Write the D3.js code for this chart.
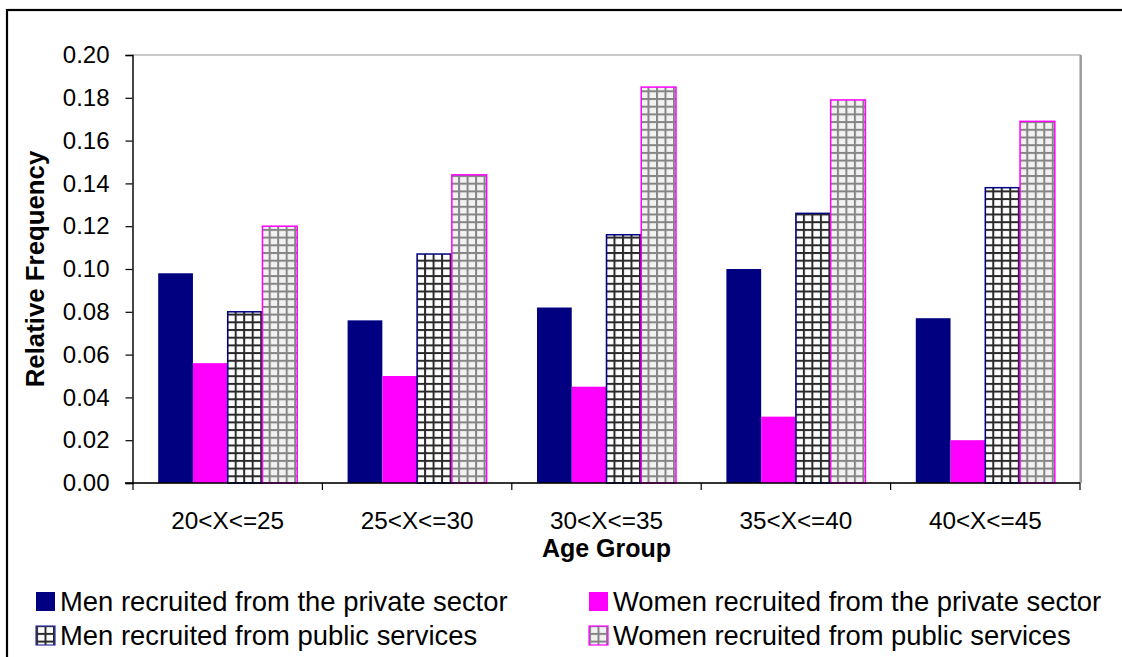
<!DOCTYPE html>
<html>
<head>
<meta charset="utf-8">
<script src="https://cdn.jsdelivr.net/npm/d3@7/dist/d3.min.js"></script>
<style>
  html, body { margin: 0; padding: 0; background: #fff; }
  svg { display: block; font-family: "Liberation Sans", Arial, sans-serif; }
</style>
</head>
<body>
<svg id="chart" width="1122" height="657"></svg>
<script>
// Age groups on the category axis
const ageGroups = ["20<X<=25", "25<X<=30", "30<X<=35", "35<X<=40", "40<X<=45"];

// Relative frequency per age group, one array per series
const menPrivate   = [0.098, 0.076, 0.082, 0.100, 0.077];
const womenPrivate = [0.056, 0.050, 0.045, 0.031, 0.020];
const menPublic    = [0.080, 0.107, 0.116, 0.126, 0.138];
const womenPublic  = [0.120, 0.144, 0.185, 0.179, 0.169];

const seriesNames = [
  "Men recruited from the private sector",
  "Women recruited from the private sector",
  "Men recruited from public services",
  "Women recruited from public services"
];

const yTicks = [0.00, 0.02, 0.04, 0.06, 0.08, 0.10, 0.12, 0.14, 0.16, 0.18, 0.20];

const seriesValues = [menPrivate, womenPrivate, menPublic, womenPublic];

const svg = d3.select("#chart");
const W = 1122, H = 657;

// Layout of the plot area
const plot = { left: 133, top: 55, right: 1080, bottom: 483 };

// Hatch patterns for the public-services series
const defs = svg.append("defs");
function gridPattern(id, bg, line) {
  const p = defs.append("pattern")
    .attr("id", id)
    .attr("patternUnits", "userSpaceOnUse")
    .attr("width", 8.5).attr("height", 7.7)
    .attr("x", 0).attr("y", plot.bottom);
  p.append("rect").attr("width", 8.5).attr("height", 7.7).attr("fill", bg);
  p.append("rect").attr("x", 0).attr("y", 0).attr("width", 2).attr("height", 7.7).attr("fill", line);
  p.append("rect").attr("x", 0).attr("y", 0).attr("width", 8.5).attr("height", 2).attr("fill", line);
}
gridPattern("gridDark", "#ffffff", "#2a2a2a");
gridPattern("gridLight", "#f2f2f2", "#858585");

const fills = ["#000080", "#ff00ff", "url(#gridDark)", "url(#gridLight)"];
const strokes = ["#000080", "#ff00ff", "#000080", "#ff00ff"];

// Outer chart frame
svg.append("rect")
  .attr("x", 7).attr("y", 10)
  .attr("width", W + 20).attr("height", H + 20)
  .attr("fill", "none").attr("stroke", "#000").attr("stroke-width", 2.2);

// Scales
const x0 = d3.scaleBand()
  .domain(ageGroups)
  .range([plot.left, plot.right])
  .paddingInner(0.266)
  .paddingOuter(0.133);

const x1 = d3.scaleBand()
  .domain(d3.range(seriesValues.length))
  .range([0, x0.bandwidth()]);

const y = d3.scaleLinear()
  .domain([0, 0.20])
  .range([plot.bottom, plot.top]);

// Plot area frame (grey)
svg.append("rect")
  .attr("x", plot.left).attr("y", plot.top)
  .attr("width", plot.right - plot.left).attr("height", plot.bottom - plot.top)
  .attr("fill", "none").attr("stroke", "#a6a6a6").attr("stroke-width", 1.2);
svg.append("line")
  .attr("x1", plot.right + 1).attr("x2", plot.right + 1)
  .attr("y1", plot.top).attr("y2", plot.bottom)
  .attr("stroke", "#8a8a8a").attr("stroke-width", 1.5);

// Bars
const groups = svg.append("g").selectAll("g")
  .data(ageGroups)
  .join("g")
  .attr("transform", d => `translate(${x0(d)},0)`);

groups.selectAll("rect")
  .data((d, i) => seriesValues.map((vals, s) => ({ s, v: vals[i] })))
  .join("rect")
  .attr("x", d => x1(d.s))
  .attr("y", d => y(d.v))
  .attr("width", x1.bandwidth())
  .attr("height", d => y(0) - y(d.v))
  .attr("fill", d => fills[d.s])
  .attr("stroke", d => strokes[d.s])
  .attr("stroke-width", d => d.s >= 2 ? 1.5 : 0);

// Y axis
const yAxis = d3.axisLeft(y)
  .tickValues(yTicks)
  .tickFormat(d3.format(".2f"))
  .tickSize(7)
  .tickPadding(16);
const gy = svg.append("g")
  .attr("transform", `translate(${plot.left - 0.5},0)`)
  .call(yAxis);
gy.select(".domain").attr("stroke", "#000").attr("stroke-width", 1.3);
gy.selectAll(".tick line").attr("stroke", "#000").attr("stroke-width", 1.2);
gy.selectAll(".tick text")
  .attr("font-size", 24)
  .attr("fill", "#000")
  .attr("font-family", "Liberation Sans, Arial, sans-serif");

// X axis: baseline with ticks between the age groups
const step = x0.step();
const boundaries = ageGroups.map(g => x0(g) - step * x0.paddingInner() / 2)
  .concat([plot.right]);
const gx = svg.append("g");
gx.append("line")
  .attr("x1", plot.left - 8).attr("x2", plot.right)
  .attr("y1", plot.bottom).attr("y2", plot.bottom)
  .attr("stroke", "#000").attr("stroke-width", 1.5);
gx.selectAll("line.tk")
  .data(boundaries)
  .join("line")
  .attr("class", "tk")
  .attr("x1", d => d).attr("x2", d => d)
  .attr("y1", plot.bottom).attr("y2", plot.bottom + 7)
  .attr("stroke", "#000").attr("stroke-width", 1.2);
gx.selectAll("text")
  .data(ageGroups)
  .join("text")
  .attr("x", d => x0(d) + x0.bandwidth() / 2)
  .attr("y", 529)
  .attr("text-anchor", "middle")
  .attr("font-size", 24.3)
  .attr("fill", "#000")
  .text(d => d);

// Axis titles
svg.append("text")
  .attr("x", (plot.left + plot.right) / 2)
  .attr("y", 557)
  .attr("text-anchor", "middle")
  .attr("font-size", 25)
  .attr("font-weight", "bold")
  .text("Age Group");

svg.append("text")
  .attr("transform", `translate(44,${(plot.top + plot.bottom) / 2}) rotate(-90)`)
  .attr("text-anchor", "middle")
  .attr("font-size", 25.8)
  .attr("font-weight", "bold")
  .text("Relative Frequency");

// Legend
const legendPos = [
  { x: 36, y: 601 },
  { x: 589, y: 601 },
  { x: 36, y: 635 },
  { x: 589, y: 635 }
];
const legend = svg.append("g").selectAll("g")
  .data(seriesNames)
  .join("g")
  .attr("transform", (d, i) => `translate(${legendPos[i].x},${legendPos[i].y})`);
legend.append("rect")
  .attr("x", 0).attr("y", -9)
  .attr("width", 19).attr("height", 19)
  .attr("fill", (d, i) => fills[i])
  .attr("stroke", (d, i) => i === 2 ? "#3030a0" : strokes[i])
  .attr("stroke-width", (d, i) => i >= 2 ? 1.2 : 0);
legend.append("text")
  .attr("x", 24).attr("y", 10)
  .attr("font-size", 27.4)
  .attr("fill", "#000")
  .text(d => d);
</script>
</body>
</html>
